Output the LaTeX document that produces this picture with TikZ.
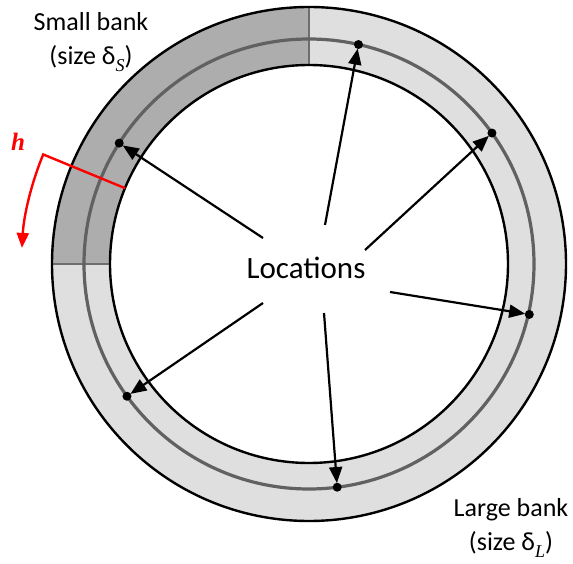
\documentclass[tikz,border=0pt]{standalone}
\usepackage{fontspec}
\setmainfont{Carlito}
\newfontfamily\serifit{Liberation Serif}
\usetikzlibrary{arrows.meta}
\definecolor{smallbank}{HTML}{ADADAD}
\definecolor{largebank}{HTML}{DFDFDF}
\definecolor{midring}{HTML}{616161}
\definecolor{divline}{HTML}{6E6E6E}
\newcommand{\bsub}[1]{\raisebox{-0.28em}{\fontsize{18}{18}\selectfont\serifit\itshape #1}}
\tikzset{
  ringline/.style={line width=2.4pt, black},
  dotnode/.style={circle, fill=black, inner sep=0pt, minimum size=9pt},
  locarrow/.style={line width=2.2pt, -{Triangle[length=16pt,width=13pt]}, shorten >=-0.5pt},
  banklabel/.style={align=center, font=\fontsize{26}{33.5}\selectfont, inner sep=0pt},
  harrow/.style={red, line width=2.4pt, -{Triangle[length=15pt,width=12pt]}},
}
\begin{document}
\begin{tikzpicture}[x=1pt,y=1pt]
\useasboundingbox (0,0) rectangle (573,563);
\begin{scope}[shift={(309,299)}]
  % ring fills
  \fill[largebank, even odd rule] (0,0) circle[radius=257] (0,0) circle[radius=199];
  \fill[smallbank] (90:199) -- (90:257) arc[start angle=90,end angle=180,radius=257]
     -- (180:199) arc[start angle=180,end angle=90,radius=199] -- cycle;
  \draw[divline, line width=1.5pt] (90:199) -- (90:257) (180:199) -- (180:257);
  \draw[midring, line width=3.2pt] (0,0) circle[radius=225];
  \draw[ringline] (0,0) circle[radius=257];
  \draw[ringline] (0,0) circle[radius=199];
  % location dots
  \node[dotnode] (d1) at (77.3:225) {};
  \node[dotnode] (d2) at (35.6:225) {};
  \node[dotnode] (d3) at (-12.9:226) {};
  \node[dotnode] (d4) at (-82.8:225) {};
  \node[dotnode] (d5) at (216:225) {};
  \node[dotnode] (d6) at (147.5:225) {};
  % arrow starts
  \coordinate (s1) at (16,39);
  \coordinate (s2) at (56,14);
  \coordinate (s3) at (81,-28);
  \coordinate (s4) at (15,-49);
  \coordinate (s5) at (-46,-39);
  \coordinate (s6) at (-46,26);
  \foreach \i in {1,...,6} { \draw[locarrow] (s\i) -- (d\i); }
  \node[font=\fontsize{31}{36}\selectfont, inner sep=0pt] (loc) at (-3,-4) {Locations};
  % h marker
  \coordinate (hin) at (157.6:199);
  \coordinate (hout) at (157.6:287.5);
  \draw[harrow] (hin) -- (hout) arc[start angle=157.6,end angle=176.8,radius=287.5];
\end{scope}
\node[red, font=\fontsize{25}{25}\selectfont\serifit\bfseries\itshape, inner sep=0pt] (hl) at (18,421) {h};
\node[banklabel] (sb) at (91,521) {Small bank\\(size δ\bsub{S})};
\node[banklabel] (lb) at (511,35) {Large bank\\(size δ\bsub{L})};
\end{tikzpicture}
\end{document}
